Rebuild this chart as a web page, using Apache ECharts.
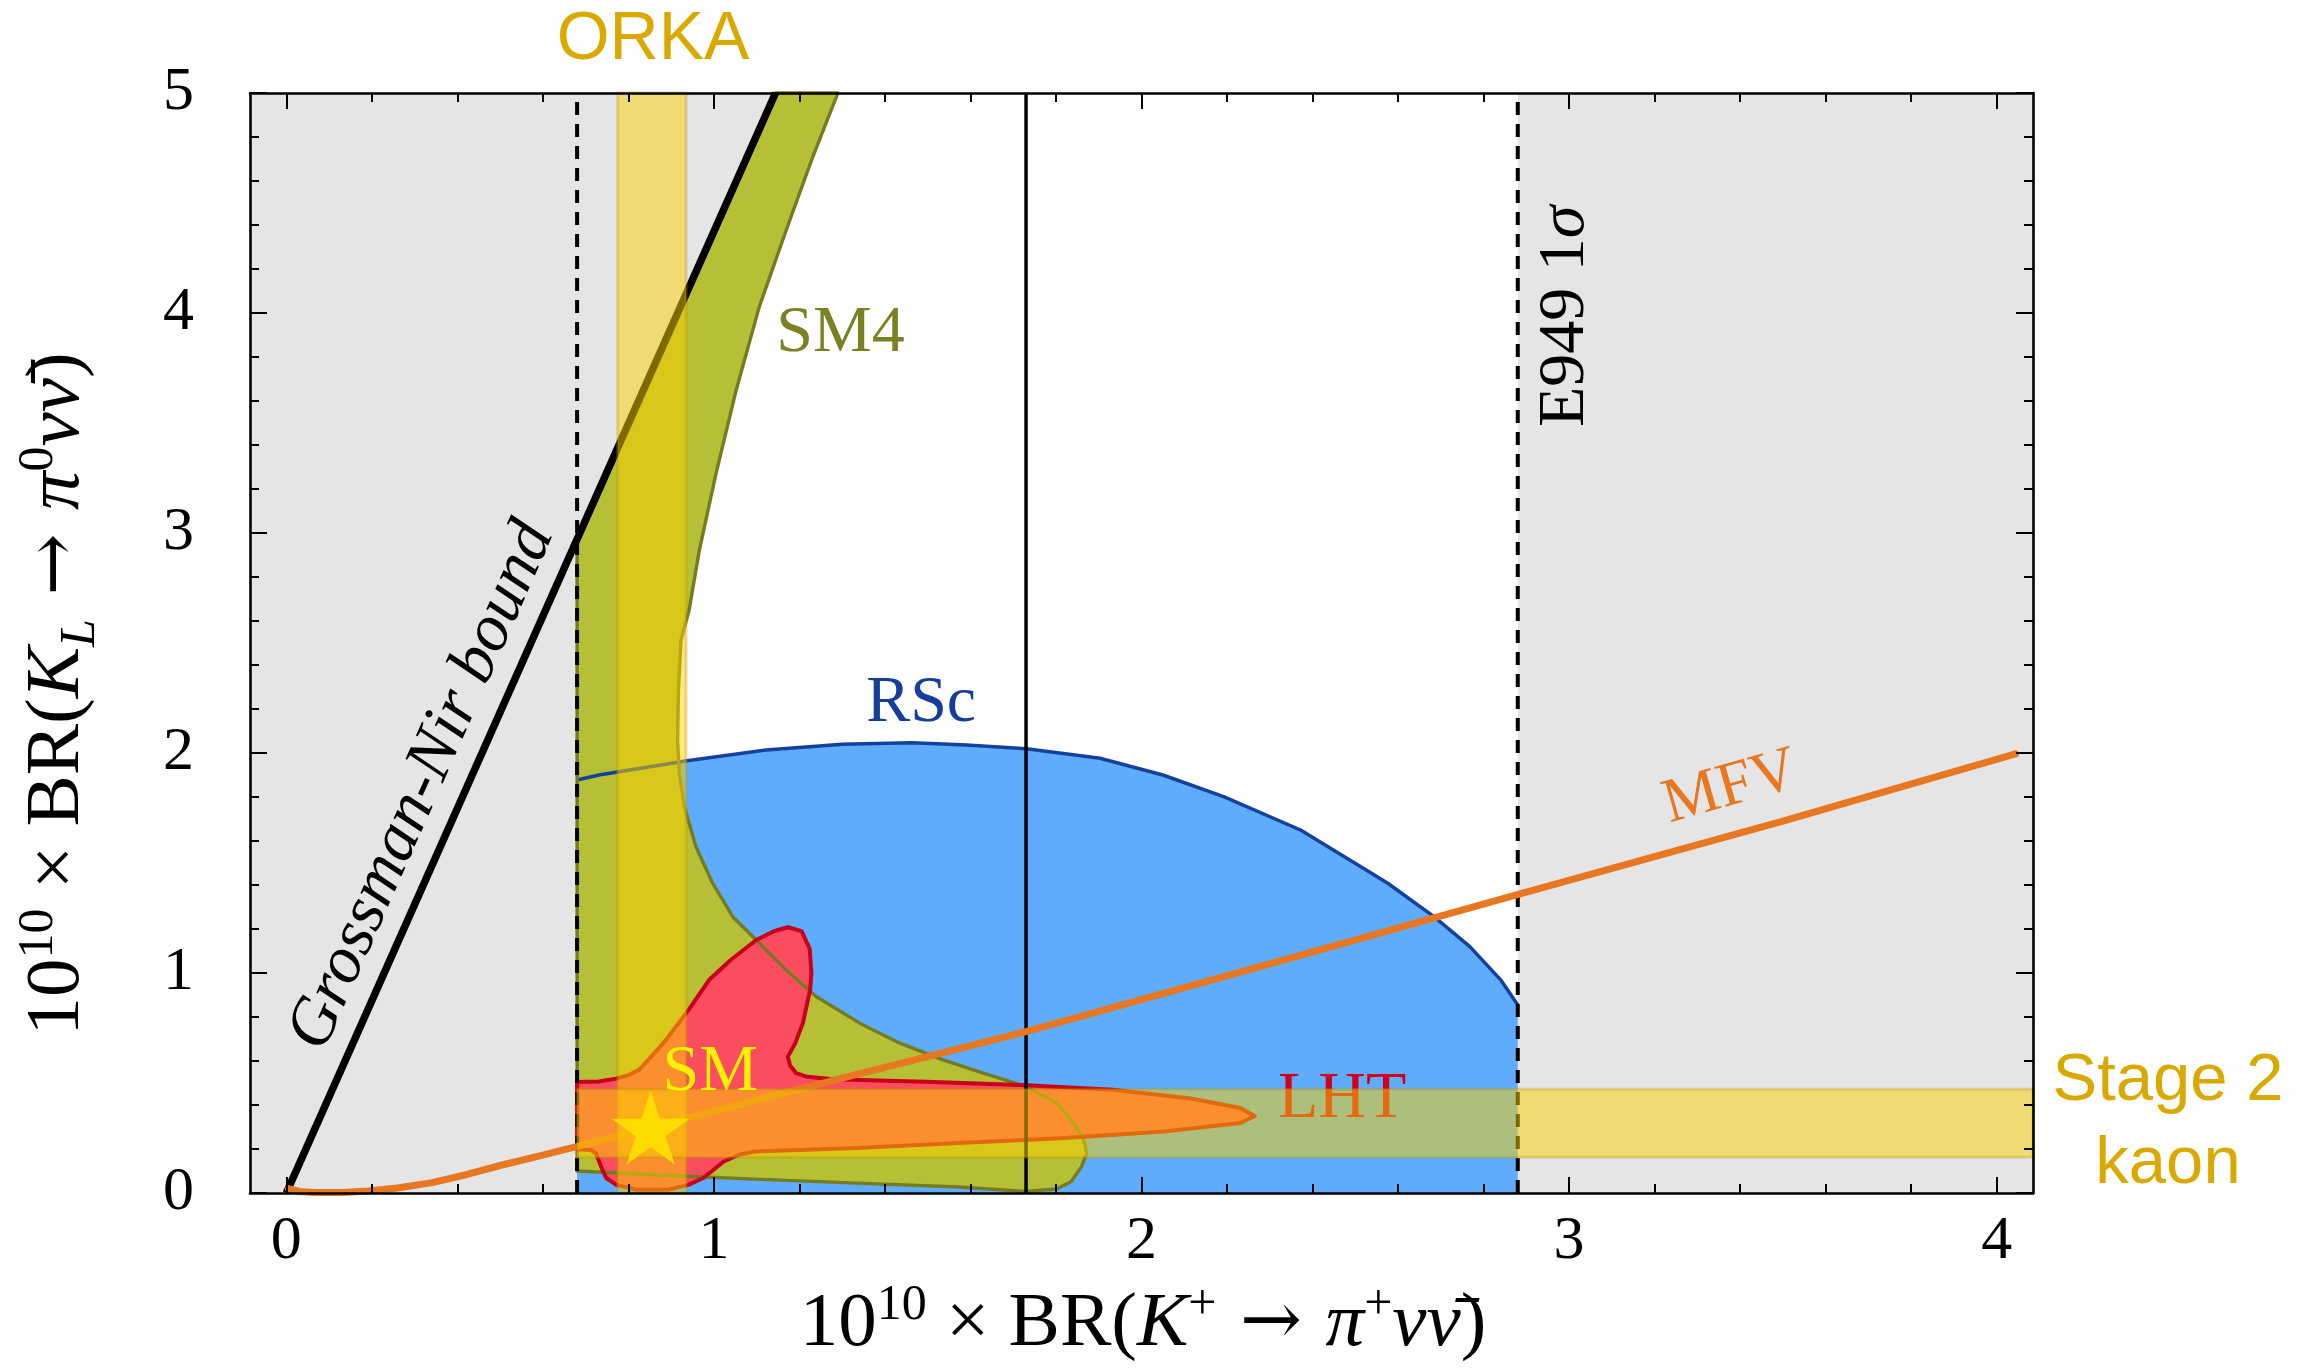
<!DOCTYPE html>
<html>
<head>
<meta charset="utf-8">
<title>K → πνν̄ model space</title>
<script src="https://cdn.jsdelivr.net/npm/echarts@6/dist/echarts.min.js"></script>
<style>
  html, body { margin: 0; padding: 0; background: #fff; }
  #chart { width: 2304px; height: 1371px; }
</style>
</head>
<body>
<div id="chart"></div>
<script>
// axis ranges and tick labels
const xRange = [-0.085, 4.085];
const yRange = [0, 5];
const xTickLabels = [0, 1, 2, 3, 4];
const yTickLabels = [0, 1, 2, 3, 4, 5];

// E949 1 sigma range and central value of BR(K+)
const e949Low = 0.68;
const e949High = 2.88;
const e949Central = 1.73;

// Grossman-Nir bound (straight line through origin)
const gnBound = [[0, 0], [1.144, 5]];

// non-excluded region (white): inside E949 1 sigma and below GN bound
const allowedRegion = [[0.68, 0], [2.88, 0], [2.88, 5], [1.144, 5], [0.68, 2.97]];

// ORKA (K+) and Stage 2 kaon (KL) projected bands
const orkaBand = [0.775, 0.935];
const stage2Band = [0.163, 0.472];

// SM point
const smPoint = [0.852, 0.298];

// MFV curve
const mfvCurve = [
  [0.005, 0.02], [0.03, 0.007], [0.067, 0.002], [0.13, 0.002], [0.192, 0.009],
  [0.26, 0.023], [0.341, 0.047], [0.42, 0.083], [0.5, 0.125], [0.59, 0.168],
  [0.676, 0.21], [1.0, 0.372], [1.3, 0.522], [1.73, 0.734], [2.3, 1.042],
  [2.883, 1.358], [3.5, 1.69], [4.044, 1.996]
];

// RSc upper contour (filled down to zero)
const rscTop = [
  [0.68, 1.877], [0.731, 1.9], [0.937, 1.965], [1.122, 2.014], [1.3, 2.04],
  [1.463, 2.047], [1.591, 2.036], [1.731, 2.019], [1.903, 1.976], [2.05, 1.9],
  [2.192, 1.802], [2.372, 1.65], [2.513, 1.483], [2.576, 1.408], [2.684, 1.256],
  [2.768, 1.12], [2.84, 0.969], [2.88, 0.855]
];

// SM4 contour
const sm4Contour = [
  [1.144, 5.0], [1.29, 5.0], [1.231, 4.709], [1.169, 4.376], [1.106, 4.028],
  [1.052, 3.649], [1.005, 3.271], [0.966, 2.922], [0.942, 2.65], [0.923, 2.513],
  [0.917, 2.286], [0.915, 2.059], [0.919, 1.908], [0.931, 1.756], [0.958, 1.574],
  [0.997, 1.408], [1.044, 1.256], [1.099, 1.15], [1.169, 1.014], [1.239, 0.893],
  [1.341, 0.772], [1.435, 0.681], [1.536, 0.605], [1.63, 0.545], [1.731, 0.484],
  [1.802, 0.408], [1.841, 0.318], [1.865, 0.24], [1.872, 0.181], [1.86, 0.121],
  [1.836, 0.052], [1.801, 0.018], [1.729, 0.007], [1.573, 0.027], [1.334, 0.045],
  [1.095, 0.063], [0.856, 0.083], [0.68, 0.10], [0.68, 2.97]
];

// LHT contour
const lhtContour = [
  [0.68, 0.505], [0.731, 0.507], [0.771, 0.52], [0.80, 0.535], [0.825, 0.56],
  [0.856, 0.625], [0.888, 0.696], [0.94, 0.83], [0.989, 0.969], [1.04, 1.06],
  [1.099, 1.15], [1.14, 1.19], [1.173, 1.208], [1.205, 1.19], [1.224, 1.11],
  [1.228, 1.0], [1.225, 0.923], [1.208, 0.772], [1.19, 0.68], [1.173, 0.62],
  [1.178, 0.58], [1.192, 0.545], [1.215, 0.53], [1.278, 0.517], [1.514, 0.504],
  [1.731, 0.49], [1.932, 0.469], [2.112, 0.431], [2.231, 0.386], [2.265, 0.35],
  [2.231, 0.318], [2.052, 0.28], [1.812, 0.249], [1.573, 0.227], [1.334, 0.204],
  [1.095, 0.189], [1.059, 0.174], [1.023, 0.143], [0.975, 0.068], [0.94, 0.037],
  [0.892, 0.015], [0.82, 0.015], [0.772, 0.037], [0.748, 0.068], [0.736, 0.121],
  [0.724, 0.181], [0.712, 0.196], [0.68, 0.199]
];

const SERIF = 'Liberation Serif';
const SANS = 'Liberation Sans';
const BAND_FILL = 'rgba(251, 209, 0, 0.5)';
const BAND_EDGE = 'rgba(190, 150, 0, 0.3)';

// minor ticks every 0.2
const minorTicks = (lo, hi, majors) => {
  const out = [];
  for (let i = Math.ceil(lo * 5); i <= Math.floor(hi * 5); i++) {
    const v = Math.round(i * 2) / 10;
    if (majors.indexOf(v) < 0) out.push(v);
  }
  return out;
};
const xMinor = minorTicks(0, 4.08, xTickLabels);
const yMinor = minorTicks(0, 5, yTickLabels);

const tickStyle = { color: '#000', width: 2 };
const frameStyle = { color: '#000', width: 2.6 };

function xAxisOf(position, ticks, len, labels, line) {
  return {
    type: 'value', min: xRange[0], max: xRange[1], position, z: 20,
    axisLine: { show: line, onZero: false, lineStyle: frameStyle },
    axisTick: { show: true, inside: true, length: len, customValues: ticks, lineStyle: tickStyle },
    axisLabel: labels ? { show: true, customValues: labels, margin: 18, fontFamily: SERIF, fontSize: 62, color: '#000' } : { show: false },
    splitLine: { show: false }
  };
}
function yAxisOf(position, ticks, len, labels, line) {
  return {
    type: 'value', min: yRange[0], max: yRange[1], position, z: 20,
    axisLine: { show: line, onZero: false, lineStyle: frameStyle },
    axisTick: { show: true, inside: true, length: len, customValues: ticks, lineStyle: tickStyle },
    axisLabel: labels ? { show: true, customValues: labels, margin: 56, fontFamily: SERIF, fontSize: 62, color: '#000' } : { show: false },
    splitLine: { show: false }
  };
}

// filled region (closed) or outline only
function shapeSeries(name, pts, z, closed, style) {
  return {
    type: 'custom', name, z, silent: true, data: [[0, 0]],
    renderItem: (params, api) => ({
      type: closed ? 'polygon' : 'polyline',
      shape: { points: pts.map(p => api.coord(p)) },
      style: Object.assign({ lineJoin: 'round' }, style)
    })
  };
}
function vline(name, x, z, style) {
  return {
    type: 'line', name, z, silent: true, symbol: 'none',
    data: [[x, yRange[0]], [x, yRange[1]]],
    lineStyle: style
  };
}

// text annotations placed in data coordinates
const annotations = [
  { text: 'Grossman-Nir bound', at: [0.318, 1.85], rot: 66.1, size: 67, color: '#000', align: 'center', italic: true },
  { text: 'E949 1{i|σ}', at: [2.991, 3.985], rot: 90, size: 66, color: '#000', align: 'center' },
  { text: 'SM4', at: [1.146, 3.908], rot: 0, size: 66, color: '#7b8022', align: 'left' },
  { text: 'RSc', at: [1.356, 2.222], rot: 0, size: 66, color: '#173d9b', align: 'left' },
  { text: 'LHT', at: [2.319, 0.425], rot: 0, size: 66, color: '#d0001c', align: 'left' },
  { text: 'MFV', at: [3.378, 1.841], rot: 15.8, size: 63, color: '#e87722', align: 'center' }
];

function textSeries(name, list, z) {
  return {
    type: 'custom', name, z, silent: true, data: [[0, 0]],
    renderItem: (params, api) => ({
      type: 'group',
      children: list.map(a => {
        const c = api.coord(a.at);
        return {
          type: 'text', x: c[0], y: c[1], rotation: a.rot * Math.PI / 180,
          style: {
            text: a.text, fill: a.color, fontSize: a.size, fontFamily: SERIF,
            fontStyle: a.italic ? 'italic' : 'normal',
            align: a.align, verticalAlign: 'middle',
            rich: { i: { fontSize: a.size, fill: a.color, fontFamily: SERIF, fontStyle: 'italic' } }
          }
        };
      })
    })
  };
}

function bandSeries(name, x0, x1, y0, y1, z) {
  return {
    type: 'custom', name, z, silent: true, data: [[0, 0]],
    renderItem: (params, api) => {
      const a = api.coord([x0, y1]);
      const b = api.coord([x1, y0]);
      return {
        type: 'rect',
        shape: { x: a[0], y: a[1], width: b[0] - a[0], height: b[1] - a[1] },
        style: { fill: BAND_FILL, stroke: BAND_EDGE, lineWidth: 3 }
      };
    }
  };
}

// rich text for axis titles
const mathRich = {
  n: { fontFamily: SERIF, fontSize: 77, fill: '#000' },
  i: { fontFamily: SERIF, fontStyle: 'italic', fontSize: 77, fill: '#000' },
  ar: { fontFamily: 'DejaVu Serif', fontSize: 74, fill: '#000' },
  sup: { fontFamily: SERIF, fontSize: 50, fill: '#000', padding: [0, 0, 38, 0] },
  sub: { fontFamily: SERIF, fontStyle: 'italic', fontSize: 50, fill: '#000', padding: [46, 0, 0, 0] }
};
const xTitle = '{n|10}{sup|10}{n| × BR(}{i|K}{sup|+}{ar| → }{i|π}{sup|+}{i|ν}{i|ν\u0304}{n|)}';
const yTitle = '{n|10}{sup|10}{n| × BR(}{i|K}{sub|L}{ar| → }{i|π}{sup|0}{i|ν}{i|ν\u0304}{n|)}';

const chart = echarts.init(document.getElementById('chart'));
chart.setOption({
  animation: false,
  backgroundColor: '#fff',
  grid: { left: 250, right: 271, top: 93, bottom: 178, show: true, backgroundColor: '#e5e5e5', borderWidth: 0 },
  xAxis: [
    xAxisOf('bottom', xTickLabels, 16, xTickLabels, true),
    xAxisOf('bottom', xMinor, 9, null, false),
    xAxisOf('top', xTickLabels, 16, null, true),
    xAxisOf('top', xMinor, 9, null, false)
  ],
  yAxis: [
    yAxisOf('left', yTickLabels, 17, yTickLabels, true),
    yAxisOf('left', yMinor, 9, null, false),
    yAxisOf('right', yTickLabels, 17, null, true),
    yAxisOf('right', yMinor, 9, null, false)
  ],
  series: [
    shapeSeries('allowed', allowedRegion, 1, true, { fill: '#ffffff' }),
    shapeSeries('RSc', [[e949Low, 0]].concat(rscTop, [[e949High, 0]]), 2, true, { fill: '#5eacfb' }),
    shapeSeries('SM4', sm4Contour, 3, true, { fill: '#b6bf35' }),
    shapeSeries('LHT', lhtContour, 4, true, { fill: '#fa4d5f' }),
    shapeSeries('RSc edge', rscTop, 5, false, { fill: 'none', stroke: '#15409d', lineWidth: 3.5 }),
    shapeSeries('SM4 edge', sm4Contour, 5, true, { fill: 'none', stroke: '#767b20', lineWidth: 3.4 }),
    shapeSeries('LHT edge', lhtContour, 5, true, { fill: 'none', stroke: '#c8001c', lineWidth: 4 }),
    {
      type: 'line', name: 'Grossman-Nir', z: 6, silent: true, symbol: 'none',
      data: gnBound, lineStyle: { color: '#000', width: 7.5 }
    },
    vline('E949 low', e949Low, 6, { color: '#000', width: 4, type: [13, 9] }),
    vline('E949 high', e949High, 6, { color: '#000', width: 4, type: [13, 9] }),
    vline('E949 central', e949Central, 6, { color: '#000', width: 3.5 }),
    {
      type: 'line', name: 'MFV', z: 6, silent: true, symbol: 'none', smooth: false,
      data: mfvCurve, lineStyle: { color: '#e87722', width: 7, cap: 'round', join: 'round' }
    },
    textSeries('labels', annotations, 7),
    bandSeries('ORKA', orkaBand[0], orkaBand[1], yRange[0], yRange[1], 8),
    bandSeries('Stage 2', e949Low, xRange[1], stage2Band[0], stage2Band[1], 8),
    {
      type: 'scatter', name: 'SM', z: 9, silent: true,
      data: [smPoint],
      symbol: 'path://M50,0L61.2,34.5L97.6,34.5L68.2,55.9L79.4,90.5L50,69.1L20.6,90.5L31.8,55.9L2.4,34.5L38.8,34.5Z',
      symbolSize: [78, 74],
      itemStyle: { color: '#ffdc00', opacity: 1 }
    },
    textSeries('SM label', [{ text: 'SM', at: [0.88, 0.546], rot: 0, size: 66, color: '#fff200', align: 'left' }], 10)
  ],
  graphic: [
    { type: 'text', x: 653, y: 40, style: { text: 'ORKA', fill: '#d9a900', fontFamily: SANS, fontSize: 68, align: 'center', verticalAlign: 'middle' } },
    { type: 'text', x: 2168, y: 1082, style: { text: 'Stage 2', fill: '#d9a900', fontFamily: SANS, fontSize: 67, align: 'center', verticalAlign: 'middle' } },
    { type: 'text', x: 2168, y: 1165, style: { text: 'kaon', fill: '#d9a900', fontFamily: SANS, fontSize: 67, align: 'center', verticalAlign: 'middle' } },
    { type: 'text', x: 1143, y: 1325, style: { text: xTitle, rich: mathRich, align: 'center', verticalAlign: 'middle' } },
    { type: 'text', x: 58, y: 694, rotation: Math.PI / 2, style: { text: yTitle, rich: mathRich, align: 'center', verticalAlign: 'middle' } }
  ]
});
</script>
</body>
</html>
